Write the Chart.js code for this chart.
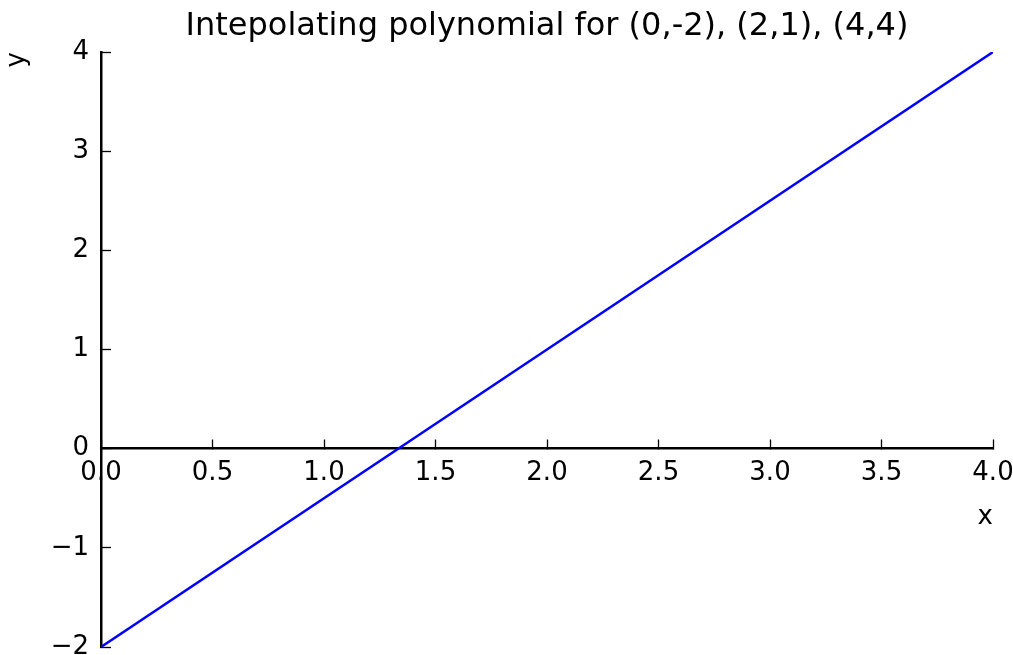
<!DOCTYPE html>
<html>
<head>
<meta charset="utf-8">
<script src="https://cdn.jsdelivr.net/npm/chart.js@4.4.1/dist/chart.umd.min.js"></script>
<style>
  html, body { margin: 0; padding: 0; background: #fff; }
  #wrap { width: 1013px; height: 655px; }
</style>
</head>
<body>
<div id="wrap"><canvas id="chart" width="1013" height="655"></canvas></div>
<script>
const titleText = "Intepolating polynomial for (0,-2), (2,1), (4,4)";
const xValues = [0, 2, 4];
const yValues = [-2, 1, 4];
const xTickValues = [0, 0.5, 1, 1.5, 2, 2.5, 3, 3.5, 4];
const yTickValues = [-2, -1, 0, 1, 2, 3, 4];

Chart.defaults.font.family = "'DejaVu Sans', sans-serif";
Chart.defaults.color = "#000";

// matplotlib-like inward ticks: negative tick length
const gridOpts = { drawOnChartArea: false, drawTicks: true, tickLength: -10, tickWidth: 1.3, tickColor: "#000" };
const borderOpts = { display: true, color: "#000", width: 2.5 };

new Chart(document.getElementById("chart"), {
  type: "scatter",
  data: {
    datasets: [{
      data: xValues.map((x, i) => ({ x, y: yValues[i] })),
      showLine: true,
      borderColor: "#0000ff",
      borderWidth: 2.5,
      pointRadius: 0,
      fill: false
    }]
  },
  options: {
    responsive: false,
    devicePixelRatio: 1,
    animation: false,
    layout: { padding: { left: 0, right: 20, top: 0, bottom: 8 } },
    plugins: {
      legend: { display: false },
      tooltip: { enabled: false },
      title: {
        display: true,
        fullSize: false, // centre over the plot area like matplotlib
        text: titleText,
        color: "#000",
        font: { size: 32, weight: "normal" },
        padding: { top: 7.4, bottom: 6.2 }
      }
    },
    scales: {
      x: {
        type: "linear",
        position: { y: 0 },
        min: 0,
        max: 4,
        afterBuildTicks: s => { s.ticks = xTickValues.map(v => ({ value: v })); },
        afterFit: s => { s.paddingLeft = 0; s.paddingRight = 0; },
        grid: gridOpts,
        border: borderOpts,
        ticks: { padding: 19, font: { size: 26 }, color: "#000", maxRotation: 0, autoSkip: false, callback: v => v.toFixed(1) },
        title: { display: true, text: "x", align: "end", color: "#000", font: { size: 26 }, padding: { top: -6, bottom: 0 } }
      },
      y: {
        type: "linear",
        position: "left",
        min: -2,
        max: 4,
        afterBuildTicks: s => { s.ticks = yTickValues.map(v => ({ value: v })); },
        afterFit: s => { s.width = 101; s.paddingTop = 0; s.paddingBottom = 0; },
        grid: gridOpts,
        border: borderOpts,
        ticks: { padding: 22, font: { size: 26 }, color: "#000", autoSkip: false, callback: v => String(v).replace("-", "\u2212") },
        title: { display: true, text: "y", align: "end", color: "#000", font: { size: 26 }, padding: { top: 2, bottom: 0 } }
      }
    }
  }
});
</script>
</body>
</html>
